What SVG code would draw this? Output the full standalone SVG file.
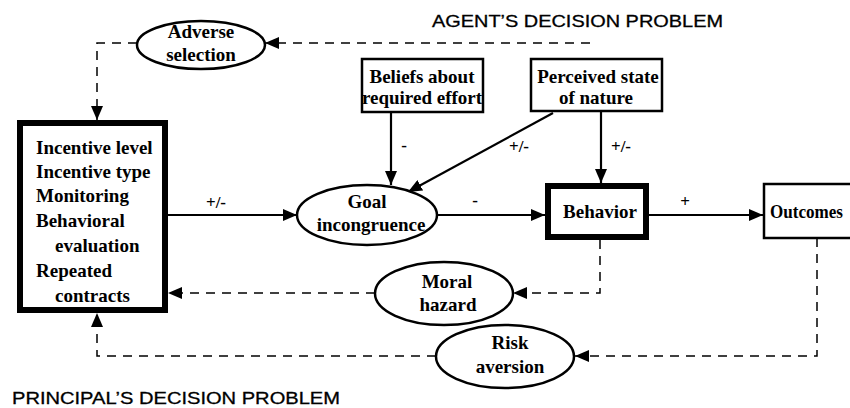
<svg xmlns="http://www.w3.org/2000/svg" width="850" height="408" viewBox="0 0 850 408">
  <style>
    .node { fill: #fff; stroke: #000; }
    .thin { stroke-width: 2.5; }
    .thick { stroke-width: 6; }
    .oval { fill: #fff; stroke: #000; stroke-width: 2.5; }
    .lbl { font-family: "Liberation Serif", "Times New Roman", serif; font-weight: bold; font-size: 19px; fill: #000; }
    .sign { font-family: "Liberation Serif", "Times New Roman", serif; font-weight: bold; font-size: 17px; fill: #000; text-anchor: middle; }
    .title { font-family: "Liberation Sans", Arial, sans-serif; font-size: 17px; fill: #000; stroke: #000; stroke-width: 0.3; }
    .mid { text-anchor: middle; }
    .solid { fill: none; stroke: #000; stroke-width: 2.2; marker-end: url(#arrow); }
    .dash { fill: none; stroke: #000; stroke-width: 1.5; stroke-dasharray: 9 7; marker-end: url(#arrow); }
  </style>
  <defs>
    <marker id="arrow" markerUnits="userSpaceOnUse" markerWidth="14" markerHeight="12" refX="14" refY="6" orient="auto">
      <path d="M0,0 L14,6 L0,12 z" fill="#000"/>
    </marker>
  </defs>

  <rect width="850" height="408" fill="#fff"/>

  <!-- section titles -->
  <text class="title" x="432" y="27" textLength="291" lengthAdjust="spacingAndGlyphs">AGENT’S DECISION PROBLEM</text>
  <text class="title" x="12" y="404" textLength="328" lengthAdjust="spacingAndGlyphs">PRINCIPAL’S DECISION PROBLEM</text>

  <!-- connectors -->
  <g id="connectors">
    <line class="solid" x1="168" y1="215" x2="297" y2="215"/>
    <line class="solid" x1="438" y1="215" x2="545" y2="215"/>
    <line class="solid" x1="649" y1="215" x2="763" y2="215"/>
    <line class="solid" x1="391" y1="113" x2="391" y2="185"/>
    <line class="solid" x1="553" y1="113" x2="408" y2="192"/>
    <line class="solid" x1="601" y1="112" x2="601" y2="183"/>
    <path class="dash" d="M600,240 V293 H513"/>
    <path class="dash" d="M375,293 H168"/>
    <path class="dash" d="M817,238 V356 H575"/>
    <path class="dash" d="M436,356 H97 V313"/>
    <path class="dash" d="M590,43 H265"/>
    <path class="dash" d="M137,43 H97 V120"/>
    <text class="sign" x="216" y="208">+/-</text>
    <text class="sign" x="404" y="151">-</text>
    <text class="sign" x="519" y="152">+/-</text>
    <text class="sign" x="621" y="152">+/-</text>
    <text class="sign" x="475" y="206">-</text>
    <text class="sign" x="685" y="207">+</text>
  </g>

  <!-- principal's control levers -->
  <g id="controls">
    <rect class="node thick" x="20" y="123" width="145" height="187"/>
    <text class="lbl" x="36" y="154">Incentive level</text>
    <text class="lbl" x="36" y="178">Incentive type</text>
    <text class="lbl" x="36" y="202">Monitoring</text>
    <text class="lbl" x="36" y="227">Behavioral</text>
    <text class="lbl" x="55" y="252">evaluation</text>
    <text class="lbl" x="36" y="277">Repeated</text>
    <text class="lbl" x="55" y="302">contracts</text>
  </g>

  <g id="adverse-selection">
    <ellipse class="oval" cx="201" cy="45" rx="64" ry="24"/>
    <text class="lbl mid" x="201" y="38">Adverse</text>
    <text class="lbl mid" x="201" y="61">selection</text>
  </g>

  <g id="beliefs">
    <rect class="node thin" x="362" y="59" width="121" height="53"/>
    <text class="lbl mid" x="422" y="83">Beliefs about</text>
    <text class="lbl mid" x="422" y="104">required effort</text>
  </g>

  <g id="perceived-state">
    <rect class="node thin" x="531" y="59" width="131" height="52"/>
    <text class="lbl mid" x="598" y="83">Perceived state</text>
    <text class="lbl mid" x="596" y="104">of nature</text>
  </g>

  <g id="goal-incongruence">
    <ellipse class="oval" cx="367" cy="215" rx="70" ry="30"/>
    <text class="lbl mid" x="367" y="208">Goal</text>
    <text class="lbl mid" x="371" y="231">incongruence</text>
  </g>

  <g id="behavior">
    <rect class="node thick" x="548" y="186" width="98" height="51"/>
    <text class="lbl mid" x="600" y="218">Behavior</text>
  </g>

  <!-- box runs past the right edge of the sheet -->
  <g id="outcomes">
    <rect class="node thin" x="764" y="184" width="100" height="54"/>
    <text class="lbl" x="770" y="218" textLength="73" lengthAdjust="spacingAndGlyphs">Outcomes</text>
  </g>

  <g id="moral-hazard">
    <ellipse class="oval" cx="444" cy="293.5" rx="69" ry="31.5"/>
    <text class="lbl mid" x="447" y="288">Moral</text>
    <text class="lbl mid" x="448" y="311">hazard</text>
  </g>

  <g id="risk-aversion">
    <ellipse class="oval" cx="505" cy="356.5" rx="69" ry="31.5"/>
    <text class="lbl mid" x="510" y="349">Risk</text>
    <text class="lbl mid" x="510" y="373">aversion</text>
  </g>
</svg>
